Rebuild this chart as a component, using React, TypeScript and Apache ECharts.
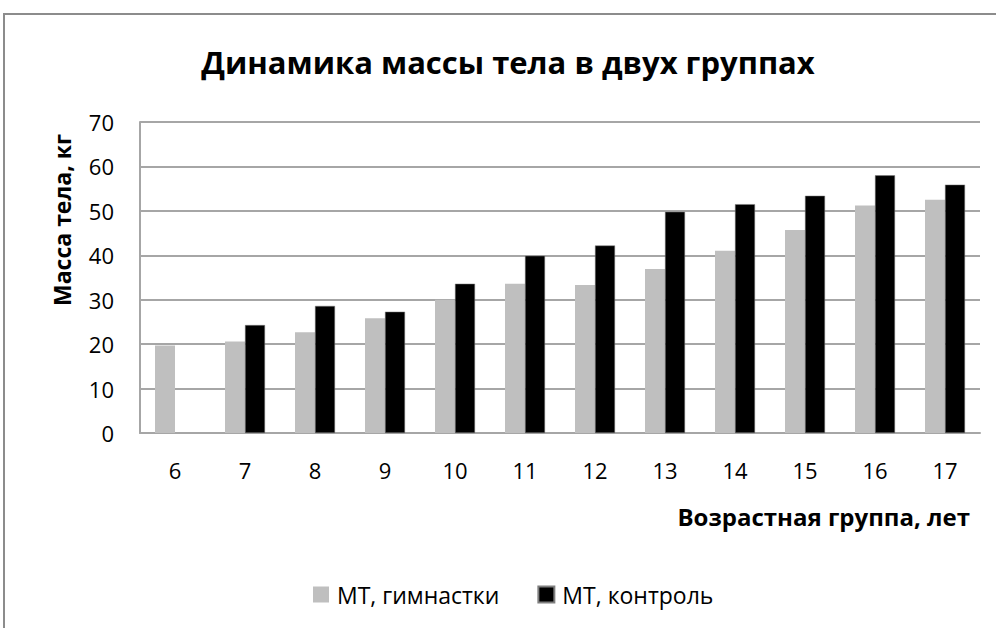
import React, { useEffect, useRef } from "react";
import * as echarts from "echarts";

const categories = ["6", "7", "8", "9", "10", "11", "12", "13", "14", "15", "16", "17"];
const gymnasts = [19.7, 20.6, 22.7, 25.8, 30.0, 33.6, 33.3, 36.9, 41.0, 45.7, 51.2, 52.5];
const control = [null, 24.3, 28.6, 27.3, 33.6, 39.9, 42.2, 49.8, 51.5, 53.4, 58.0, 55.9];
const seriesNames = ["МТ, гимнастки", "МТ, контроль"];
const titleText = "Динамика массы тела в двух группах";
const yAxisName = "Масса тела, кг";
const xAxisName = "Возрастная группа, лет";

const FONT = "'Open Sans', 'Noto Sans', sans-serif";

export default function App() {
  const ref = useRef<HTMLDivElement>(null);
  useEffect(() => {
    if (!ref.current) return;
    const chart = echarts.init(ref.current, null, { renderer: "svg" });
    chart.setOption({
      animation: false,
      backgroundColor: "#ffffff",
      graphic: [
        {
          type: "rect",
          shape: { x: 4, y: 14, width: 1100, height: 800 },
          style: { fill: "none", stroke: "#8c8c8c", lineWidth: 2 },
          silent: true,
        },
        {
          type: "text",
          x: 508,
          y: 62,
          style: {
            text: titleText,
            fontFamily: FONT,
            fontSize: 31,
            fontWeight: "bold",
            fill: "#000",
            align: "center",
            verticalAlign: "middle",
          },
        },
        {
          type: "text",
          x: 62,
          y: 220,
          rotation: Math.PI / 2,
          style: {
            text: yAxisName,
            fontFamily: FONT,
            fontSize: 23,
            fontWeight: "bold",
            fill: "#000",
            align: "center",
            verticalAlign: "middle",
          },
        },
        {
          type: "text",
          x: 970,
          y: 516,
          style: {
            text: xAxisName,
            fontFamily: FONT,
            fontSize: 24,
            fontWeight: "bold",
            fill: "#000",
            align: "right",
            verticalAlign: "middle",
          },
        },
      ],
      legend: {
        data: seriesNames,
        top: 578,
        left: 308,
        itemWidth: 16,
        itemHeight: 16,
        itemGap: 38,
        icon: "rect",
        textStyle: { fontFamily: FONT, fontSize: 23, color: "#000", padding: [0, 0, 0, 3] },
      },
      grid: { left: 140, right: 16, top: 122, bottom: 195 },
      xAxis: {
        type: "category",
        data: categories,
        axisLine: { show: true, lineStyle: { color: "#a6a6a6", width: 2 } },
        axisTick: { show: false },
        axisLabel: { fontFamily: FONT, fontSize: 22, color: "#000", margin: 26 },
      },
      yAxis: {
        type: "value",
        min: 0,
        max: 70,
        interval: 10,
        axisLine: { show: true, lineStyle: { color: "#a6a6a6", width: 2 } },
        axisTick: { show: false },
        splitLine: { lineStyle: { color: "#a6a6a6", width: 2 } },
        axisLabel: { fontFamily: FONT, fontSize: 22, color: "#000", margin: 26 },
      },
      series: [
        {
          name: seriesNames[0],
          type: "bar",
          data: gymnasts,
          barWidth: 20,
          barGap: "0%",
          itemStyle: { color: "#bfbfbf" },
        },
        {
          name: seriesNames[1],
          type: "bar",
          data: control,
          barWidth: 20,
          barGap: "0%",
          itemStyle: { color: "#000000", borderColor: "#7f7f7f", borderWidth: 0.5 },
        },
      ],
    });
    return () => chart.dispose();
  }, []);
  return <div ref={ref} style={{ width: 996, height: 628, position: "absolute", left: 0, top: 0 }} />;
}
